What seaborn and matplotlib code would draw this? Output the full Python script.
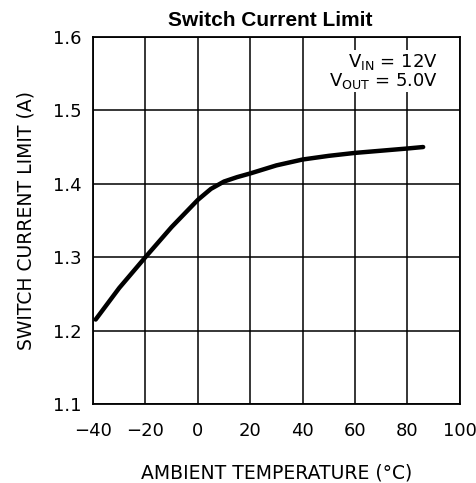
import seaborn as sns
import matplotlib.pyplot as plt
import pandas as pd

# curve
temp_c = [-39, -30, -20, -10, 0, 5, 10, 15, 20, 30, 40, 50, 60, 70, 80, 86]
current_a = [1.215, 1.258, 1.300, 1.341, 1.378, 1.393, 1.403, 1.409, 1.414,
             1.425, 1.433, 1.438, 1.442, 1.445, 1.448, 1.450]

x_ticks = [-40, -20, 0, 20, 40, 60, 80, 100]
x_tick_labels = ['\u221240', '\u221220', '0', '20', '40', '60', '80', '100']
y_ticks = [1.1, 1.2, 1.3, 1.4, 1.5, 1.6]
y_tick_labels = ['1.1', '1.2', '1.3', '1.4', '1.5', '1.6']

df = pd.DataFrame({'temp': temp_c, 'current': current_a})

sns.set_style('white')
plt.rcParams['font.family'] = ['DejaVu Sans']
plt.rcParams['text.color'] = 'black'
plt.rcParams['axes.labelcolor'] = 'black'
plt.rcParams['xtick.color'] = 'black'
plt.rcParams['ytick.color'] = 'black'

fig = plt.figure(figsize=(4.77, 4.83), dpi=100)
ax = fig.add_axes([0.195, 0.1636, 0.769, 0.760])

sns.lineplot(data=df, x='temp', y='current', color='black', linewidth=3.2, ax=ax)

ax.set_xlim(-40, 100)
ax.set_ylim(1.1, 1.6)
ax.set_xticks(x_ticks)
ax.set_xticklabels(x_tick_labels, fontsize=13)
ax.set_yticks(y_ticks)
ax.set_yticklabels(y_tick_labels, fontsize=13)
ax.tick_params(axis='x', length=0, pad=13)
ax.tick_params(axis='y', length=0, pad=8)
ax.grid(True, color='black', linewidth=1.1)
ax.set_axisbelow(True)
for s in ax.spines.values():
    s.set_color('black')
    s.set_linewidth(1.3)

ax.set_xlabel('AMBIENT TEMPERATURE (\u00b0C)', fontsize=13.5, labelpad=17)
ax.set_ylabel('SWITCH CURRENT LIMIT (A)', fontsize=13.5, labelpad=13)

fig.text(0.566, 0.958, 'Switch Current Limit', ha='center', va='center',
         fontsize=15, fontweight='bold', family='Liberation Sans')

ax.text(0.94, 0.96, '$\\mathregular{V_{IN}}$ = 12V\n$\\mathregular{V_{OUT}}$ = 5.0V',
        transform=ax.transAxes, ha='right', va='top', fontsize=13,
        multialignment='right', linespacing=0.95,
        bbox=dict(facecolor='white', edgecolor='none', pad=1))

fig.savefig('out.png', dpi=100)
